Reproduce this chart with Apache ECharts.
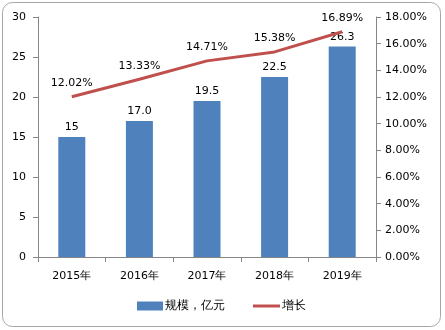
<!DOCTYPE html>
<html>
<head>
<meta charset="utf-8">
<script src="https://cdn.jsdelivr.net/npm/echarts@6/dist/echarts.min.js"></script>
<style>
html, body { margin: 0; padding: 0; background: #fff; }
#chart { width: 445px; height: 330px; }
</style>
</head>
<body>
<div id="chart"></div>
<script>
// Market size (100 million yuan) and annual growth rate (%)
const years = ['2015年', '2016年', '2017年', '2018年', '2019年'];
const scale = [15, 17.0, 19.5, 22.5, 26.3];
const scaleLabels = ['15', '17.0', '19.5', '22.5', '26.3'];
const growth = [12.02, 13.33, 14.71, 15.38, 16.89];
const leftTicks = [0, 5, 10, 15, 20, 25, 30];
const rightTicks = [0, 2, 4, 6, 8, 10, 12, 14, 16, 18];

const font = 'DejaVu Sans';
const axisGray = '#868686';
const legendText = { fontFamily: font, fontSize: 12, color: '#000', padding: [0, 0, 0, -3] };

const chart = echarts.init(document.getElementById('chart'), null, { renderer: 'canvas' });
chart.setOption({
  animation: false,
  textStyle: { fontFamily: font, fontSize: 11, color: '#000' },
  graphic: [{
    type: 'rect',
    shape: { x: 2.5, y: 2.5, width: 438, height: 324, r: 10 },
    style: { fill: 'none', stroke: '#a6a6a6', lineWidth: 1 },
    silent: true
  }],
  grid: { left: 38, right: 69, top: 17, bottom: 73, containLabel: false },
  legend: [{
    left: 137,
    top: 300,
    padding: 0,
    itemWidth: 26,
    itemHeight: 9,
    textStyle: legendText,
    data: [{ name: '规模，亿元', icon: 'rect' }]
  }, {
    left: 253,
    top: 300,
    padding: 0,
    itemWidth: 27,
    itemHeight: 3,
    textStyle: legendText,
    data: [{ name: '增长', icon: 'rect' }]
  }],
  xAxis: {
    type: 'category',
    data: years,
    axisLine: { lineStyle: { color: axisGray } },
    axisTick: { show: true, length: 5, alignWithLabel: false, lineStyle: { color: axisGray } },
    axisLabel: { color: '#000', fontFamily: font, fontSize: 11, margin: 14 }
  },
  yAxis: [{
    type: 'value',
    min: leftTicks[0],
    max: leftTicks[leftTicks.length - 1],
    interval: leftTicks[1] - leftTicks[0],
    splitLine: { show: false },
    axisLine: { show: true, lineStyle: { color: axisGray } },
    axisTick: { show: true, length: 5, lineStyle: { color: axisGray } },
    axisLabel: { color: '#000', fontFamily: font, fontSize: 11, margin: 12 }
  }, {
    type: 'value',
    position: 'right',
    min: rightTicks[0],
    max: rightTicks[rightTicks.length - 1],
    interval: rightTicks[1] - rightTicks[0],
    splitLine: { show: false },
    axisLine: { show: true, lineStyle: { color: axisGray } },
    axisTick: { show: true, length: 5, lineStyle: { color: axisGray } },
    axisLabel: {
      color: '#000', fontFamily: font, fontSize: 11, margin: 9,
      formatter: v => v.toFixed(2) + '%'
    }
  }],
  series: [{
    name: '规模，亿元',
    type: 'bar',
    data: scale,
    barWidth: 27,
    itemStyle: { color: '#4F81BD' },
    label: {
      show: true,
      position: 'top',
      distance: 4,
      color: '#000',
      fontFamily: font,
      fontSize: 11,
      formatter: p => scaleLabels[p.dataIndex]
    }
  }, {
    name: '增长',
    type: 'line',
    yAxisIndex: 1,
    data: growth,
    symbol: 'circle',
    symbolSize: 0,
    showSymbol: true,
    lineStyle: { color: '#C0504D', width: 3 },
    itemStyle: { color: '#C0504D' },
    label: {
      show: true,
      position: 'top',
      distance: 8,
      color: '#000',
      fontFamily: font,
      fontSize: 11,
      formatter: p => growth[p.dataIndex].toFixed(2) + '%'
    },
    z: 3
  }]
});
</script>
</body>
</html>
